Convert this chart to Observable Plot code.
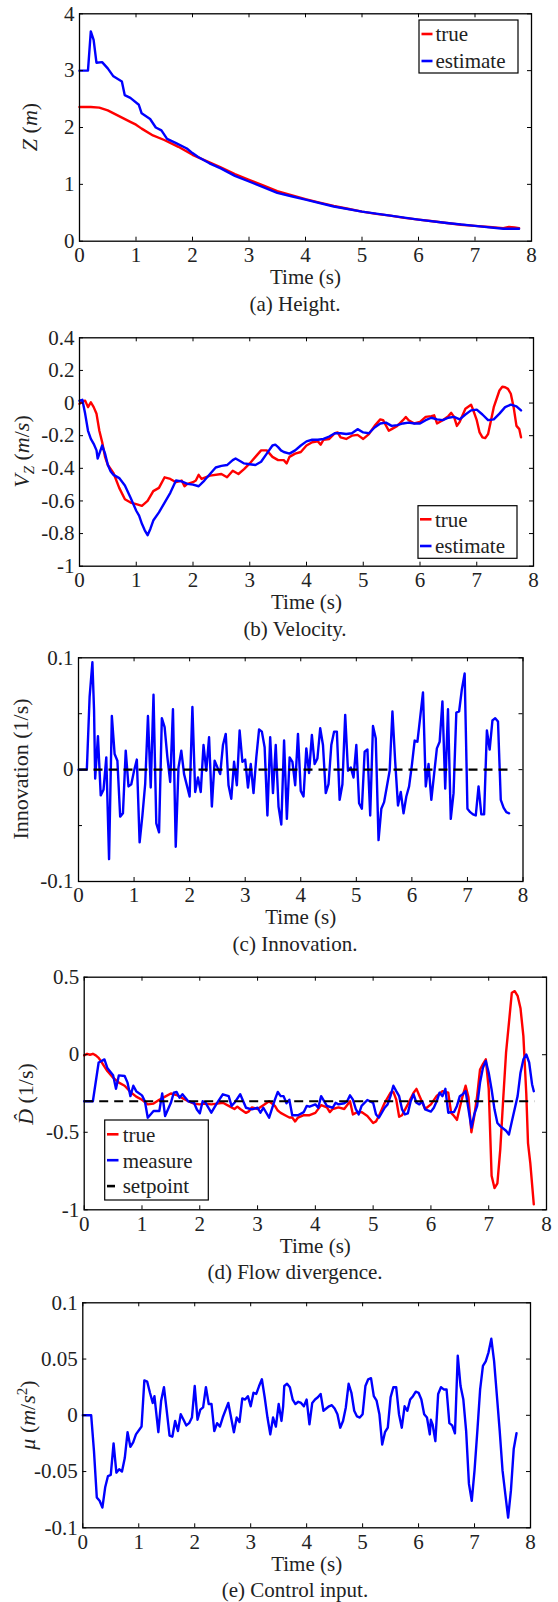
<!DOCTYPE html>
<html><head><meta charset="utf-8">
<script src="https://cdn.jsdelivr.net/npm/d3@7"></script>
<script src="https://cdn.jsdelivr.net/npm/@observablehq/plot@0.6"></script>
<style>
html,body{margin:0;padding:0;background:#fff;overflow:hidden}
#root{position:relative;width:558px;height:1602px;font-family:"Liberation Serif","Times New Roman",serif;color:#222}
.panel{position:absolute;left:0}
.cap{position:absolute;left:95px;width:400px;text-align:center;font-size:21px;line-height:22px;color:#222;font-family:"Liberation Serif","Times New Roman",serif}
</style></head><body><div id="root"></div>
<script>
// ---------- data ----------
const xTicks = [0,1,2,3,4,5,6,7,8];

const heightTicks = [0,1,2,3,4];
const heightTrue = [[0,2.36],[0.2,2.36],[0.35,2.35],[0.5,2.30],[0.7,2.20],[0.9,2.10],[1.0,2.05],[1.1,1.98],[1.3,1.86],[1.5,1.78],[1.75,1.66],[2.0,1.52],[2.25,1.41],[2.5,1.30],[2.75,1.18],[3.0,1.08],[3.25,0.98],[3.5,0.88],[3.75,0.81],[4.0,0.74],[4.25,0.68],[4.5,0.62],[4.75,0.57],[5.0,0.52],[5.25,0.48],[5.5,0.45],[5.75,0.41],[6.0,0.38],[6.25,0.35],[6.5,0.32],[6.75,0.29],[7.0,0.27],[7.25,0.25],[7.5,0.23],[7.6,0.25],[7.7,0.24],[7.78,0.23]];
const heightEst = [[0,3.0],[0.15,3.0],[0.2,3.69],[0.25,3.54],[0.3,3.14],[0.4,3.15],[0.5,3.04],[0.6,2.9],[0.75,2.81],[0.8,2.57],[0.9,2.52],[1.05,2.40],[1.1,2.25],[1.25,2.15],[1.35,2.0],[1.45,1.95],[1.55,1.80],[1.7,1.73],[1.9,1.63],[2.0,1.55],[2.1,1.48],[2.3,1.37],[2.5,1.28],[2.75,1.15],[3.0,1.05],[3.25,0.95],[3.5,0.85],[3.75,0.79],[4.0,0.73],[4.5,0.61],[5.0,0.52],[5.5,0.45],[6.0,0.38],[6.5,0.32],[7.0,0.27],[7.5,0.22],[7.78,0.22]];

const velTicks = [-1,-0.8,-0.6,-0.4,-0.2,0,0.2,0.4];
const velTrue = [[0,-0.005],[0.05,0.01],[0.1,0.015],[0.15,-0.025],[0.2,0.005],[0.25,-0.025],[0.3,-0.066],[0.35,-0.17],[0.4,-0.24],[0.45,-0.33],[0.5,-0.38],[0.6,-0.43],[0.7,-0.52],[0.8,-0.59],[0.9,-0.61],[1.0,-0.62],[1.1,-0.63],[1.2,-0.60],[1.3,-0.54],[1.4,-0.52],[1.5,-0.455],[1.6,-0.465],[1.7,-0.485],[1.8,-0.475],[1.85,-0.51],[1.9,-0.495],[2.0,-0.485],[2.05,-0.475],[2.1,-0.44],[2.15,-0.465],[2.3,-0.445],[2.5,-0.435],[2.6,-0.455],[2.7,-0.415],[2.8,-0.435],[2.9,-0.405],[3.0,-0.37],[3.1,-0.33],[3.2,-0.29],[3.3,-0.29],[3.4,-0.33],[3.5,-0.35],[3.6,-0.35],[3.65,-0.37],[3.7,-0.33],[3.8,-0.31],[3.9,-0.30],[4.0,-0.26],[4.1,-0.24],[4.2,-0.235],[4.25,-0.255],[4.3,-0.225],[4.4,-0.22],[4.5,-0.185],[4.55,-0.18],[4.6,-0.21],[4.7,-0.22],[4.8,-0.2],[4.9,-0.195],[5.0,-0.22],[5.1,-0.19],[5.2,-0.14],[5.3,-0.10],[5.35,-0.105],[5.45,-0.17],[5.5,-0.16],[5.6,-0.14],[5.7,-0.105],[5.75,-0.085],[5.8,-0.105],[5.9,-0.125],[6.0,-0.115],[6.1,-0.085],[6.2,-0.08],[6.25,-0.075],[6.3,-0.125],[6.4,-0.105],[6.5,-0.08],[6.55,-0.06],[6.6,-0.085],[6.65,-0.14],[6.7,-0.115],[6.8,-0.035],[6.9,-0.01],[6.95,-0.055],[7.0,-0.105],[7.05,-0.18],[7.1,-0.21],[7.15,-0.215],[7.2,-0.19],[7.3,-0.025],[7.4,0.077],[7.45,0.10],[7.5,0.097],[7.55,0.087],[7.6,0.057],[7.65,-0.025],[7.7,-0.14],[7.75,-0.16],[7.78,-0.21]];
const velEst = [[0,0.015],[0.05,0.02],[0.1,-0.066],[0.15,-0.17],[0.2,-0.22],[0.25,-0.25],[0.3,-0.29],[0.32,-0.34],[0.35,-0.31],[0.4,-0.26],[0.45,-0.31],[0.5,-0.38],[0.55,-0.42],[0.6,-0.44],[0.7,-0.46],[0.8,-0.505],[0.9,-0.58],[1.0,-0.66],[1.05,-0.69],[1.1,-0.74],[1.15,-0.78],[1.2,-0.81],[1.25,-0.77],[1.3,-0.72],[1.4,-0.67],[1.5,-0.61],[1.6,-0.55],[1.7,-0.475],[1.8,-0.48],[1.9,-0.495],[2.0,-0.50],[2.1,-0.51],[2.2,-0.475],[2.3,-0.435],[2.4,-0.395],[2.5,-0.385],[2.6,-0.38],[2.7,-0.35],[2.75,-0.34],[2.85,-0.36],[2.9,-0.37],[3.0,-0.375],[3.1,-0.38],[3.2,-0.36],[3.3,-0.31],[3.4,-0.26],[3.45,-0.255],[3.5,-0.27],[3.55,-0.29],[3.6,-0.30],[3.7,-0.31],[3.8,-0.29],[3.9,-0.26],[4.0,-0.235],[4.1,-0.225],[4.2,-0.225],[4.3,-0.22],[4.4,-0.205],[4.5,-0.185],[4.6,-0.185],[4.7,-0.19],[4.8,-0.185],[4.9,-0.16],[5.0,-0.18],[5.1,-0.185],[5.2,-0.15],[5.3,-0.125],[5.4,-0.12],[5.5,-0.14],[5.6,-0.135],[5.7,-0.125],[5.8,-0.12],[5.9,-0.125],[6.0,-0.125],[6.1,-0.105],[6.2,-0.09],[6.3,-0.10],[6.4,-0.105],[6.5,-0.09],[6.6,-0.085],[6.7,-0.10],[6.8,-0.07],[6.9,-0.045],[7.0,-0.04],[7.1,-0.07],[7.2,-0.105],[7.3,-0.10],[7.4,-0.065],[7.5,-0.025],[7.6,-0.01],[7.7,-0.02],[7.78,-0.045]];

const innovTicks = [-0.1,-0.05,0,0.05,0.1];
const innovTickLabels = ["-0.1","","0","","0.1"];
const innovZero = [[0,0],[7.77,0]];
const innovation = [[0,0],[0.15,0],[0.2,0.065],[0.25,0.096],[0.28,0.053],[0.3,-0.008],[0.35,0.03],[0.4,-0.023],[0.45,-0.018],[0.5,0.011],[0.55,-0.080],[0.6,0.048],[0.65,0.014],[0.7,0.008],[0.75,-0.042],[0.8,-0.039],[0.85,0.017],[0.9,-0.015],[0.95,-0.013],[1.0,-0.001],[1.05,0.009],[1.1,-0.065],[1.15,-0.041],[1.2,-0.013],[1.25,0.048],[1.3,-0.016],[1.35,0.067],[1.4,-0.048],[1.45,-0.056],[1.5,0.046],[1.55,0.038],[1.6,0.011],[1.65,-0.011],[1.7,0.054],[1.75,-0.069],[1.8,0.002],[1.85,0.017],[1.9,-0.004],[2.0,-0.024],[2.05,0.056],[2.1,-0.020],[2.15,-0.007],[2.2,-0.020],[2.25,0.022],[2.3,-0.001],[2.35,0.029],[2.4,-0.033],[2.45,0.008],[2.5,0.002],[2.55,-0.004],[2.6,0.022],[2.65,0.032],[2.7,-0.014],[2.75,-0.026],[2.8,0.007],[2.85,-0.014],[2.9,0.035],[2.95,0.007],[3.0,0.009],[3.05,-0.016],[3.1,0.005],[3.15,-0.021],[3.2,0.011],[3.25,0.036],[3.3,0.034],[3.35,0.020],[3.4,-0.041],[3.45,0.029],[3.5,-0.021],[3.55,0.022],[3.6,-0.033],[3.65,-0.049],[3.7,0.026],[3.75,-0.044],[3.8,0.011],[3.85,0.007],[3.9,-0.014],[3.95,0.032],[4.0,-0.019],[4.05,-0.024],[4.1,0.019],[4.15,-0.003],[4.2,0.031],[4.25,0.005],[4.3,0.010],[4.35,0.037],[4.4,0.022],[4.45,-0.021],[4.5,-0.013],[4.55,0.022],[4.6,0.034],[4.65,0.034],[4.7,-0.027],[4.75,-0.013],[4.8,0.049],[4.85,-0.001],[4.9,0.002],[4.95,-0.007],[5.0,0.022],[5.05,-0.030],[5.1,-0.035],[5.15,0.016],[5.2,0.018],[5.25,-0.041],[5.3,0.039],[5.35,0.028],[5.4,-0.063],[5.45,-0.035],[5.5,-0.029],[5.55,-0.015],[5.6,-0.001],[5.65,0.052],[5.7,0.007],[5.75,-0.032],[5.8,-0.020],[5.85,-0.039],[5.9,-0.024],[5.95,-0.015],[6.0,0.004],[6.05,0.026],[6.1,0.025],[6.15,0.047],[6.2,0.069],[6.25,-0.015],[6.3,0.005],[6.35,-0.027],[6.4,-0.004],[6.45,0.019],[6.5,0.025],[6.55,0.061],[6.6,-0.017],[6.65,0.054],[6.7,-0.044],[6.75,-0.021],[6.8,0.051],[6.85,0.052],[6.9,0.072],[6.95,0.086],[7.0,-0.035],[7.05,-0.038],[7.1,-0.040],[7.15,-0.041],[7.2,-0.015],[7.25,-0.040],[7.3,-0.040],[7.35,0.035],[7.4,0.018],[7.45,0.044],[7.5,0.046],[7.55,0.043],[7.6,-0.027],[7.65,-0.034],[7.7,-0.038],[7.75,-0.039]];

const divTicks = [-1,-0.5,0,0.5];
const divSetpoint = [[0,-0.3],[7.79,-0.3]];
const divTrue = [[0,-0.004],[0.05,0.006],[0.1,0],[0.15,0.006],[0.2,-0.004],[0.25,-0.02],[0.3,-0.047],[0.35,-0.077],[0.4,-0.105],[0.5,-0.148],[0.6,-0.18],[0.7,-0.20],[0.8,-0.24],[0.9,-0.27],[1.0,-0.29],[1.1,-0.32],[1.2,-0.315],[1.3,-0.29],[1.4,-0.27],[1.5,-0.25],[1.6,-0.26],[1.7,-0.28],[1.8,-0.30],[1.9,-0.315],[2.0,-0.32],[2.1,-0.315],[2.2,-0.32],[2.3,-0.315],[2.4,-0.31],[2.5,-0.33],[2.6,-0.35],[2.65,-0.335],[2.7,-0.35],[2.8,-0.375],[2.85,-0.365],[2.9,-0.34],[3.0,-0.35],[3.1,-0.325],[3.2,-0.30],[3.3,-0.33],[3.35,-0.36],[3.4,-0.375],[3.5,-0.395],[3.55,-0.405],[3.6,-0.405],[3.65,-0.43],[3.7,-0.405],[3.8,-0.39],[3.9,-0.39],[4.0,-0.375],[4.1,-0.325],[4.2,-0.34],[4.25,-0.37],[4.3,-0.35],[4.4,-0.34],[4.5,-0.35],[4.6,-0.30],[4.65,-0.385],[4.7,-0.375],[4.8,-0.37],[4.9,-0.395],[5.0,-0.44],[5.05,-0.43],[5.1,-0.395],[5.2,-0.31],[5.3,-0.245],[5.35,-0.24],[5.4,-0.29],[5.45,-0.40],[5.5,-0.39],[5.6,-0.32],[5.7,-0.245],[5.75,-0.22],[5.8,-0.265],[5.9,-0.35],[6.0,-0.32],[6.1,-0.265],[6.2,-0.235],[6.3,-0.245],[6.35,-0.375],[6.4,-0.395],[6.45,-0.42],[6.5,-0.34],[6.55,-0.265],[6.6,-0.20],[6.65,-0.275],[6.7,-0.50],[6.75,-0.395],[6.8,-0.265],[6.85,-0.095],[6.9,-0.06],[6.95,-0.03],[7.0,-0.22],[7.05,-0.78],[7.1,-0.86],[7.15,-0.83],[7.2,-0.61],[7.25,-0.29],[7.3,0.013],[7.35,0.206],[7.4,0.40],[7.45,0.41],[7.5,0.38],[7.55,0.30],[7.6,0.12],[7.65,-0.25],[7.68,-0.57],[7.72,-0.70],[7.78,-0.965]];
const divMeasure = [[0,-0.30],[0.15,-0.30],[0.25,-0.05],[0.3,-0.04],[0.35,-0.03],[0.4,-0.085],[0.5,-0.133],[0.55,-0.22],[0.6,-0.133],[0.7,-0.137],[0.75,-0.18],[0.8,-0.267],[0.85,-0.20],[0.9,-0.235],[1.0,-0.262],[1.05,-0.30],[1.1,-0.406],[1.2,-0.363],[1.3,-0.363],[1.35,-0.25],[1.4,-0.395],[1.5,-0.31],[1.55,-0.245],[1.6,-0.24],[1.65,-0.277],[1.7,-0.255],[1.8,-0.30],[1.9,-0.31],[1.95,-0.353],[2.0,-0.378],[2.05,-0.30],[2.1,-0.31],[2.2,-0.374],[2.3,-0.31],[2.4,-0.255],[2.5,-0.267],[2.55,-0.33],[2.6,-0.31],[2.7,-0.255],[2.8,-0.342],[2.9,-0.352],[3.0,-0.342],[3.05,-0.374],[3.1,-0.342],[3.2,-0.406],[3.3,-0.29],[3.35,-0.24],[3.4,-0.267],[3.45,-0.267],[3.5,-0.313],[3.55,-0.29],[3.6,-0.39],[3.7,-0.39],[3.8,-0.37],[3.85,-0.33],[3.9,-0.335],[4.0,-0.32],[4.05,-0.342],[4.1,-0.267],[4.2,-0.33],[4.3,-0.342],[4.35,-0.31],[4.4,-0.32],[4.5,-0.313],[4.55,-0.30],[4.6,-0.262],[4.65,-0.29],[4.7,-0.35],[4.75,-0.385],[4.8,-0.33],[4.9,-0.292],[5.0,-0.31],[5.05,-0.385],[5.1,-0.406],[5.2,-0.342],[5.25,-0.32],[5.3,-0.267],[5.35,-0.20],[5.4,-0.235],[5.45,-0.267],[5.5,-0.352],[5.55,-0.385],[5.6,-0.378],[5.65,-0.30],[5.7,-0.255],[5.75,-0.31],[5.8,-0.32],[5.85,-0.30],[5.9,-0.352],[6.0,-0.367],[6.05,-0.342],[6.1,-0.30],[6.15,-0.245],[6.2,-0.267],[6.25,-0.22],[6.3,-0.374],[6.35,-0.37],[6.4,-0.37],[6.45,-0.33],[6.5,-0.267],[6.55,-0.255],[6.6,-0.235],[6.65,-0.352],[6.7,-0.47],[6.75,-0.385],[6.8,-0.33],[6.85,-0.18],[6.9,-0.084],[6.95,-0.04],[7.0,-0.116],[7.05,-0.224],[7.1,-0.352],[7.15,-0.44],[7.2,-0.46],[7.3,-0.49],[7.35,-0.515],[7.4,-0.43],[7.5,-0.267],[7.55,-0.116],[7.6,-0.03],[7.65,0.002],[7.7,-0.05],[7.75,-0.19],[7.78,-0.235]];

const ctrlTicks = [-0.1,-0.05,0,0.05,0.1];
const control = [[0,0],[0.15,0],[0.2,-0.032],[0.25,-0.073],[0.3,-0.076],[0.35,-0.082],[0.4,-0.064],[0.45,-0.054],[0.5,-0.053],[0.55,-0.025],[0.6,-0.051],[0.65,-0.048],[0.7,-0.050],[0.75,-0.038],[0.8,-0.015],[0.85,-0.028],[0.9,-0.024],[0.95,-0.017],[1.05,-0.010],[1.1,0.031],[1.15,0.030],[1.2,0.020],[1.25,0.011],[1.28,0.017],[1.35,-0.015],[1.4,0.013],[1.45,0.025],[1.5,0.004],[1.55,-0.018],[1.6,-0.019],[1.65,-0.005],[1.7,-0.014],[1.75,0.001],[1.8,-0.004],[1.85,-0.009],[1.9,-0.007],[1.95,-0.002],[2.0,0.026],[2.05,-0.004],[2.1,0.005],[2.15,0.007],[2.2,0.025],[2.25,0.010],[2.3,0.010],[2.35,-0.014],[2.4,-0.007],[2.45,-0.010],[2.5,-0.002],[2.6,0.011],[2.7,-0.015],[2.75,-0.002],[2.8,-0.006],[2.85,0.015],[2.9,0.014],[2.95,0.017],[3.0,0.008],[3.05,0.020],[3.1,0.019],[3.15,0.026],[3.2,0.032],[3.25,0.016],[3.3,-0.002],[3.35,-0.017],[3.4,-0.002],[3.45,-0.010],[3.5,0.010],[3.55,-0.005],[3.58,0.008],[3.6,0.026],[3.65,0.028],[3.7,0.025],[3.75,0.014],[3.8,0.010],[3.85,0.012],[3.9,0.011],[3.95,0.008],[4.0,0.014],[4.05,-0.008],[4.1,0.011],[4.15,0.014],[4.2,0.016],[4.25,0.019],[4.3,0.004],[4.35,0.006],[4.4,0.008],[4.45,0.009],[4.5,0.006],[4.55,0.001],[4.6,-0.011],[4.65,-0.005],[4.7,0.007],[4.75,0.028],[4.8,0.020],[4.85,0.004],[4.9,-0.001],[4.95,-0.002],[5.0,0.001],[5.05,0.026],[5.1,0.032],[5.15,0.033],[5.2,0.017],[5.25,0.013],[5.3,0.001],[5.35,-0.026],[5.4,-0.015],[5.45,-0.011],[5.5,0.016],[5.55,0.025],[5.6,0.025],[5.65,0.001],[5.7,-0.011],[5.75,0.008],[5.8,0.004],[5.85,0.014],[5.9,0.017],[5.95,0.021],[6.0,0.020],[6.05,0.014],[6.1,0.001],[6.15,-0.002],[6.2,-0.017],[6.22,-0.004],[6.25,-0.008],[6.3,-0.023],[6.35,0.019],[6.4,0.025],[6.45,0.023],[6.5,0.023],[6.55,-0.007],[6.6,-0.009],[6.65,-0.016],[6.7,0.053],[6.75,0.026],[6.8,0.014],[6.85,-0.014],[6.9,-0.061],[6.95,-0.076],[7.0,-0.049],[7.05,-0.014],[7.1,0.023],[7.15,0.044],[7.2,0.048],[7.25,0.056],[7.3,0.068],[7.35,0.048],[7.4,0.017],[7.45,-0.014],[7.5,-0.049],[7.55,-0.070],[7.6,-0.091],[7.65,-0.067],[7.7,-0.030],[7.75,-0.016]];

const legendHeight = ["true","estimate"];
const legendVel = ["true","estimate"];
const legendDiv = ["true","measure","setpoint"];
const captions = ["(a) Height.","(b) Velocity.","(c) Innovation.","(d) Flow divergence.","(e) Control input."];

// ---------- rendering ----------
const RED = "#ff0000", BLUE = "#0000ff", INK = "#222";
const SERIF = '"Liberation Serif","Times New Roman",serif';
const root = document.getElementById("root");

function panel(cfg) {
  const {top, H, left, right, pTop, pBottom, yDomain, yTicks, yLabels, lines} = cfg;
  const plotH = pBottom - pTop, plotW = right - left;
  const fmt = d => yLabels ? yLabels[yTicks.indexOf(d)] : String(d);
  const marks = [
    ...lines.map(l => Plot.line(l.data, {x: d => d[0], y: d => d[1], stroke: l.color, strokeWidth: l.width || 2.4, strokeDasharray: l.dash, strokeLinejoin: "round", strokeLinecap: l.dash ? "butt" : "round"})),
    Plot.frame({stroke: "#000", strokeWidth: 1.3}),
    Plot.tickX(xTicks, {x: d => d, insetTop: plotH - 4, stroke: "#000", strokeWidth: 1}),
    Plot.tickX(xTicks, {x: d => d, insetBottom: plotH - 4, stroke: "#000", strokeWidth: 1}),
    Plot.tickY(yTicks, {y: d => d, insetRight: plotW - 4, stroke: "#000", strokeWidth: 1}),
    Plot.tickY(yTicks, {y: d => d, insetLeft: plotW - 4, stroke: "#000", strokeWidth: 1}),
    Plot.axisX(xTicks, {tickSize: 0, tickPadding: 6, tickFormat: d => String(d), label: null, color: INK, fontSize: 21}),
    Plot.axisY(yTicks, {tickSize: 0, tickPadding: 5, tickFormat: fmt, label: null, color: INK, fontSize: 21}),
    Plot.text(["Time (s)"], {text: d => d, frameAnchor: "bottom", dy: 36, lineAnchor: "middle", fill: INK, fontSize: 21})
  ];
  const svg = Plot.plot({
    width: 558, height: H,
    marginLeft: left, marginRight: 558 - right, marginTop: pTop, marginBottom: H - pBottom,
    x: {domain: [0, 8]},
    y: {domain: yDomain},
    style: {fontFamily: SERIF, fontSize: "21px", background: "transparent"},
    marks
  });
  svg.setAttribute("font-family", SERIF);
  const wrap = document.createElement("div");
  wrap.className = "panel";
  wrap.style.top = top + "px";
  wrap.appendChild(svg);
  root.appendChild(wrap);
  return svg;
}

function yLabel(svg, x, y, parts) {
  const t = d3.select(svg).append("text")
    .attr("transform", `translate(${x},${y}) rotate(-90)`)
    .attr("text-anchor", "middle").attr("dy", "0.35em")
    .attr("font-family", SERIF)
    .attr("font-size", 22).attr("fill", INK);
  parts.forEach(p => {
    const ts = t.append("tspan").text(p.t);
    if (p.i) ts.attr("font-style", "italic");
    if (p.sub) ts.attr("font-size", 15).attr("dy", 5);
    if (p.sup) ts.attr("font-size", 15).attr("dy", -8);
    if (p.back) ts.attr("dy", p.back);
  });
}

function legend(svg, box, labels, colors, dashes) {
  const g = d3.select(svg).append("g");
  g.append("rect").attr("x", box.x).attr("y", box.y).attr("width", box.w).attr("height", box.h)
    .attr("fill", "#fff").attr("stroke", "#000").attr("stroke-width", 1.2);
  labels.forEach((lab, i) => {
    const y = box.r0 + i * box.dr;
    g.append("line").attr("x1", box.s1).attr("x2", box.s2).attr("y1", y).attr("y2", y)
      .attr("stroke", colors[i]).attr("stroke-width", 2.6)
      .attr("stroke-dasharray", dashes && dashes[i] ? dashes[i] : null);
    g.append("text").attr("x", box.tx).attr("y", y).attr("dy", "0.35em")
      .attr("text-anchor", "start").attr("font-family", SERIF)
      .attr("font-size", 21).attr("fill", INK).text(lab);
  });
}

function caption(text, cy) {
  const d = document.createElement("div");
  d.className = "cap";
  d.style.top = (cy - 11) + "px";
  d.textContent = text;
  root.appendChild(d);
}

// (a) Height
const sa = panel({top: 0, H: 320, left: 79, right: 531, pTop: 13.3, pBottom: 240.7, yDomain: [0, 4], yTicks: heightTicks,
  lines: [{data: heightTrue, color: RED}, {data: heightEst, color: BLUE}]});
yLabel(sa, 29, 127, [{t: "Z", i: 1}, {t: " ("}, {t: "m", i: 1}, {t: ")"}]);
legend(sa, {x: 419, y: 20, w: 99, h: 53, r0: 34, dr: 27, s1: 421.5, s2: 432.5, tx: 435.5}, legendHeight, [RED, BLUE]);
caption(captions[0], 304);

// (b) Velocity
const sb = panel({top: 320, H: 320, left: 79, right: 533, pTop: 17.3, pBottom: 245.7, yDomain: [-1, 0.4], yTicks: velTicks,
  lines: [{data: velTrue, color: RED}, {data: velEst, color: BLUE}]});
yLabel(sb, 21, 131.5, [{t: "V", i: 1}, {t: "Z", i: 1, sub: 1}, {t: " (", back: -5}, {t: "m", i: 1}, {t: "/"}, {t: "s", i: 1}, {t: ")"}]);
legend(sb, {x: 418, y: 185.7, w: 99, h: 52.6, r0: 199.3, dr: 26.7, s1: 420, s2: 431.5, tx: 435}, legendVel, [RED, BLUE]);
caption(captions[1], 629);

// (c) Innovation
const sc = panel({top: 640, H: 320, left: 78, right: 522.5, pTop: 17.3, pBottom: 241, yDomain: [-0.1, 0.1], yTicks: innovTicks, yLabels: innovTickLabels,
  lines: [{data: innovation, color: BLUE}, {data: innovZero, color: "#000", dash: "9,6", width: 2.2}]});
yLabel(sc, 20, 129, [{t: "Innovation (1/s)"}]);
caption(captions[2], 944);

// (d) Flow divergence
const sd = panel({top: 960, H: 320, left: 83.7, right: 546, pTop: 16.7, pBottom: 249.3, yDomain: [-1, 0.5], yTicks: divTicks,
  lines: [{data: divTrue, color: RED}, {data: divMeasure, color: BLUE}, {data: divSetpoint, color: "#000", dash: "9,6", width: 2.2}]});
yLabel(sd, 25, 134, [{t: "D\u0302", i: 1}, {t: " (1/s)"}]);
legend(sd, {x: 104.7, y: 160, w: 103.6, h: 80, r0: 174.3, dr: 25.9, s1: 107, s2: 118.5, tx: 122.7}, legendDiv, [RED, BLUE, "#000"], [null, null, "8,6"]);
caption(captions[3], 1272);

// (e) Control input
const se = panel({top: 1280, H: 322, left: 82.3, right: 530, pTop: 22.3, pBottom: 247.3, yDomain: [-0.1, 0.1], yTicks: ctrlTicks,
  lines: [{data: control, color: BLUE}]});
yLabel(se, 27, 135, [{t: "\u03BC", i: 1}, {t: " ("}, {t: "m", i: 1}, {t: "/"}, {t: "s", i: 1}, {t: "2", sup: 1}, {t: ")", back: 8}]);
caption(captions[4], 1590);
</script></body></html>
